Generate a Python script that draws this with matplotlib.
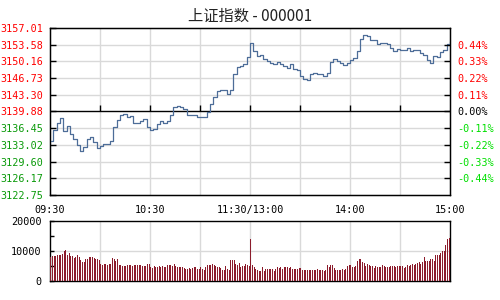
import numpy as np
import matplotlib
matplotlib.use("Agg")
import matplotlib.pyplot as plt
from matplotlib import markers

title = "上证指数 - 000001"
base_price = 3139.88
price_ticks = [3122.75, 3126.17, 3129.60, 3133.02, 3136.45, 3139.88,
               3143.30, 3146.73, 3150.16, 3153.58, 3157.01]
pct_labels = ["-0.44%", "-0.33%", "-0.22%", "-0.11%", "0.00%",
              "0.11%", "0.22%", "0.33%", "0.44%"]
time_labels = ["09:30", "10:30", "11:30/13:00", "14:00", "15:00"]
time_ticks = [0, 60, 120, 180, 240]
vol_ticks = [0, 10000, 20000]

# price every 2 minutes (121 points)
price = [
    3133.84, 3136.04, 3137.48, 3138.61, 3135.89, 3136.86, 3135.22, 3134.19, 3132.95, 3131.78,
    3132.54, 3134.19, 3134.60, 3133.57, 3132.34, 3132.85, 3133.16, 3133.16, 3133.78, 3136.65,
    3138.09, 3139.22, 3139.33, 3138.71, 3139.02, 3137.58, 3137.62, 3137.89, 3138.40, 3136.65,
    3136.04, 3136.24, 3137.33, 3137.89, 3137.58, 3137.89, 3139.26, 3140.76, 3140.97, 3140.87,
    3140.35, 3139.12, 3139.22, 3139.06, 3138.81, 3138.81, 3138.71, 3139.74, 3141.38, 3142.92,
    3144.05, 3144.20, 3144.20, 3143.50, 3144.32, 3147.55, 3148.98, 3149.19, 3149.66, 3151.04,
    3153.92, 3152.27, 3151.24, 3151.55, 3150.63, 3150.22, 3149.91, 3149.66, 3150.11, 3149.60,
    3149.13, 3148.88, 3149.70, 3148.57, 3148.37, 3147.24, 3146.62, 3146.31, 3147.48, 3147.85,
    3147.55, 3147.55, 3147.07, 3147.75, 3150.01, 3150.69, 3150.22, 3149.81, 3149.33, 3149.81,
    3150.42, 3150.89, 3152.27, 3154.80, 3155.50, 3155.46, 3154.47, 3154.47, 3153.71, 3153.92,
    3153.92, 3153.65, 3152.99, 3152.27, 3152.68, 3152.58, 3152.48, 3152.89, 3152.37, 3152.48,
    3152.54, 3151.96, 3151.45, 3150.48, 3149.91, 3151.24, 3151.04, 3152.17, 3152.42, 3153.81,
    3154.12,
]
price_minutes = list(range(0, 241, 2))

volume_am = [
    8100, 8430, 8200, 8200, 8540, 8770, 8540, 8990, 9890, 10120, 8770, 9440, 8430, 8430, 7640,
    7980, 8770, 7870, 7080, 6180, 6180, 7190, 7190, 8090, 7870, 8090, 7640, 7190, 7420, 7080,
    5730, 5170, 5730, 5730, 5170, 5730, 5730, 7760, 7310, 6740, 7190, 5400, 5400, 5060, 5060,
    5060, 5400, 5170, 5400, 5060, 5400, 5170, 5400, 5400, 5170, 4830, 5060, 4830, 5730, 5730,
    4610, 4270, 4830, 4610, 4610, 4830, 4610, 4830, 4610, 4610, 5170, 5400, 5170, 4830, 5730,
    4830, 4500, 4500, 4500, 4500, 4270, 4050, 4050, 4270, 4050, 4270, 4500, 4500, 4050, 4050,
    4500, 4050, 3710, 4610, 5170, 5170, 5400, 5730, 5400, 4830, 4500, 4500, 4270, 3710, 3710,
    4830, 4050, 3710, 6860, 6860, 6860, 5730, 5400, 5960, 4500, 4830, 4830, 5730, 5170, 4830,
]
volume_pm = [
    13830, 5170, 4500, 4050, 3710, 3370, 3370, 4610, 3370, 4050, 4050, 4050, 4050, 4050, 3370,
    4050, 4500, 4270, 4500, 4050, 4500, 4500, 4500, 4270, 4500, 4050, 4050, 4050, 4050, 4270,
    4270, 3710, 3710, 3710, 3710, 3710, 3710, 3710, 3710, 3710, 4050, 3710, 3710, 3710, 3480,
    3710, 5170, 4500, 5400, 5170, 4270, 3710, 3710, 3710, 3710, 4050, 3710, 4050, 4830, 5170,
    5400, 4500, 4500, 4830, 6520, 7420, 7420, 6290, 5960, 4830, 5620, 5170, 4830, 4830, 4270,
    4830, 4500, 4500, 4500, 5400, 4830, 4500, 4500, 4720, 4830, 4830, 4830, 4500, 4830, 4830,
    4830, 4830, 4270, 4500, 5170, 4830, 5170, 5620, 5400, 5620, 5960, 6290, 5620, 6290, 8090,
    6520, 6740, 6520, 7190, 7420, 6740, 8770, 8540, 8770, 9330, 10000, 10000, 11910, 13830, 14160,
]
volume = volume_am + volume_pm

LINE = "#4d6d98"
BAR = "#8c1c2c"
GRID = "#d9d9d9"
RED = "#ff0000"
DGREEN = "#0a9a0a"
LGREEN = "#00e000"
MONO = "DejaVu Sans Mono"

fig = plt.figure(figsize=(5, 3), dpi=100)
fig.patch.set_facecolor("white")

ax = fig.add_axes([0.1, 0.35, 0.8, 0.5567])
ax.set_xlim(0, 240)
ax.set_ylim(price_ticks[0], price_ticks[-1])

for t in price_ticks[1:-1]:
    if t != base_price:
        ax.axhline(t, color=GRID, lw=1, zorder=0)
for t in range(30, 240, 30):
    ax.axvline(t, color=GRID, lw=1, zorder=0)
ax.axhline(base_price, color="black", lw=1, zorder=1)
ax.plot(list(range(30, 240, 30)), [base_price] * 7, linestyle="none",
        marker=markers.TICKUP, markersize=4, markeredgewidth=1, color="black", zorder=2)

ax.step(price_minutes, price, where="post", color=LINE, lw=0.9, zorder=3)

ax.set_yticks(price_ticks)
ax.set_yticklabels([f"{t:.2f}" for t in price_ticks], family=MONO, fontsize=7.3)
for lab, t in zip(ax.get_yticklabels(), price_ticks):
    lab.set_color(RED if t >= base_price else DGREEN)
ax.tick_params(axis="y", direction="in", length=4, width=1, pad=5)
ax.set_xticks(time_ticks)
ax.set_xticklabels(time_labels, family=MONO, fontsize=7.3)
ax.tick_params(axis="x", direction="in", length=0, pad=7.5)
for s in ax.spines.values():
    s.set_color("black")
    s.set_linewidth(1)

ax2 = ax.twinx()
ax2.set_ylim(price_ticks[0], price_ticks[-1])
rticks = price_ticks[1:-1]
ax2.set_yticks(rticks)
ax2.set_yticklabels(pct_labels, family=MONO, fontsize=7.3)
for lab, t in zip(ax2.get_yticklabels(), rticks):
    lab.set_color(RED if t > base_price else ("black" if t == base_price else LGREEN))
ax2.tick_params(axis="y", direction="in", length=4, width=1, pad=5)

fig.text(0.5, 1 - 16 / 300, title, ha="center", va="center", fontsize=11,
         family=["Noto Sans CJK SC", "DejaVu Sans"], color="#222222")

axv = fig.add_axes([0.1, 0.0633, 0.8, 0.201])
axv.set_xlim(0, 240)
axv.set_ylim(0, 20000)
axv.axhline(10000, color=GRID, lw=1, zorder=0)
for t in range(30, 240, 30):
    axv.axvline(t, color=GRID, lw=1, zorder=0)
axv.bar(np.arange(len(volume)) + 0.5, volume, width=0.65, color=BAR, zorder=3)
axv.set_yticks(vol_ticks)
axv.set_yticklabels([str(v) for v in vol_ticks], family=MONO, fontsize=7.3)
axv.set_yticks([5000, 15000], minor=True)
axv.tick_params(axis="y", which="both", direction="in", length=3, width=1, pad=6)
axv.set_xticks([])
for s in axv.spines.values():
    s.set_color("black")
    s.set_linewidth(1)

fig.savefig("out.png", dpi=100, facecolor="white")
